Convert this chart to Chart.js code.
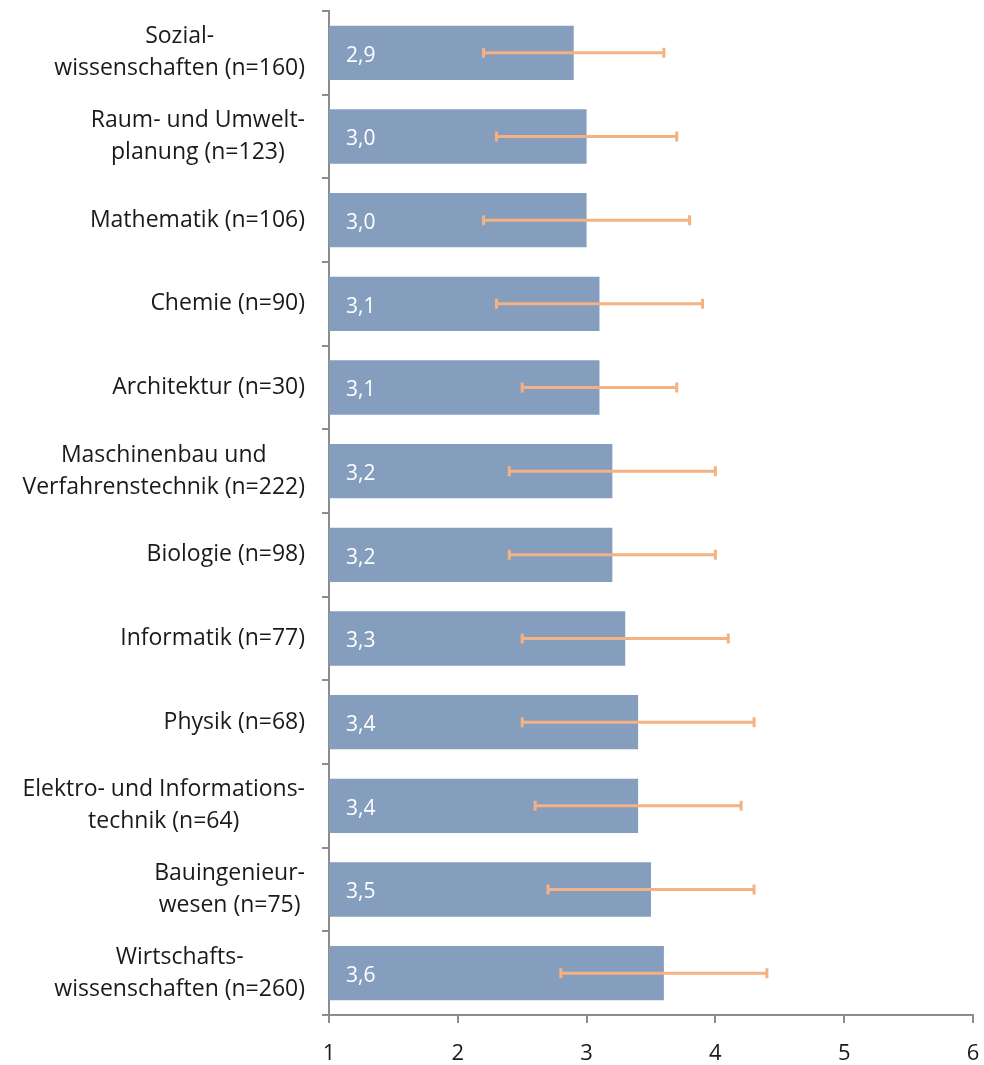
<!DOCTYPE html>
<html>
<head>
<meta charset="utf-8">
<script src="https://cdn.jsdelivr.net/npm/chart.js@4.4.1/dist/chart.umd.min.js"></script>
<style>
  html, body { margin: 0; padding: 0; background: #fff; }
  #wrap { width: 984px; height: 1065px; }
</style>
</head>
<body>
<div id="wrap"><canvas id="chart" width="984" height="1065"></canvas></div>
<script>
// category labels (line breaks as in the original)
const categories = [
    ["Sozial-", "wissenschaften (n=160)"],
    ["Raum- und Umwelt-", "planung (n=123)"],
    ["Mathematik (n=106)"],
    ["Chemie (n=90)"],
    ["Architektur (n=30)"],
    ["Maschinenbau und", "Verfahrenstechnik (n=222)"],
    ["Biologie (n=98)"],
    ["Informatik (n=77)"],
    ["Physik (n=68)"],
    ["Elektro- und Informations-", "technik (n=64)"],
    ["Bauingenieur-", "wesen (n=75)"],
    ["Wirtschafts-", "wissenschaften (n=260)"],
];
const means = [2.9, 3.0, 3.0, 3.1, 3.1, 3.2, 3.2, 3.3, 3.4, 3.4, 3.5, 3.6];
const errLow = [2.2, 2.3, 2.2, 2.3, 2.5, 2.4, 2.4, 2.5, 2.5, 2.6, 2.7, 2.8];
const errHigh = [3.6, 3.7, 3.8, 3.9, 3.7, 4.0, 4.0, 4.1, 4.3, 4.2, 4.3, 4.4];
const xTicks = [1, 2, 3, 4, 5, 6];

const FONT = "'Open Sans', 'DejaVu Sans', sans-serif";
const axisGray = "#8c8c8c";
const barColor = "#859ebd";
const errColor = "#f4b183";

// error bars and value labels
const barExtras = {
    id: "barExtras",
    afterDatasetsDraw(chart) {
        const ctx = chart.ctx;
        const x = chart.scales.x;
        const meta = chart.getDatasetMeta(0);
        ctx.save();
        meta.data.forEach((bar, i) => {
            const y = bar.y;
            const x1 = x.getPixelForValue(errLow[i]);
            const x2 = x.getPixelForValue(errHigh[i]);
            ctx.strokeStyle = errColor;
            ctx.lineWidth = 3;
            ctx.beginPath();
            ctx.moveTo(x1, y);
            ctx.lineTo(x2, y);
            ctx.moveTo(x1, y - 5);
            ctx.lineTo(x1, y + 5);
            ctx.moveTo(x2, y - 5);
            ctx.lineTo(x2, y + 5);
            ctx.stroke();

            ctx.fillStyle = "#ffffff";
            ctx.font = "21px " + FONT;
            ctx.textAlign = "left";
            ctx.textBaseline = "middle";
            ctx.fillText(means[i].toFixed(1).replace(".", ","), x.getPixelForValue(1) + 17, y + 3);
        });
        ctx.restore();
    },
    afterDraw(chart) {
        // category labels: block right-aligned, lines centered within block
        const ctx = chart.ctx;
        const yScale = chart.scales.y;
        const right = 305;
        const lh = 32;
        ctx.save();
        ctx.font = "23px " + FONT;
        ctx.fillStyle = "#1a1a1a";
        ctx.textAlign = "center";
        ctx.textBaseline = "middle";
        categories.forEach((lines, i) => {
            const cy = yScale.getPixelForValue(i);
            const w = Math.max(...lines.map(l => ctx.measureText(l).width));
            const cx = right - w / 2;
            const y0 = cy - (lines.length - 1) * lh / 2;
            lines.forEach((l, k) => ctx.fillText(l, cx, y0 + k * lh));
        });
        ctx.restore();
    }
};

new Chart(document.getElementById("chart"), {
    type: "bar",
    data: {
        labels: categories.map(c => c.join(" ")),
        datasets: [{
            data: means.map(m => [1, m]),
            backgroundColor: barColor,
            borderWidth: 0,
            categoryPercentage: 1,
            barPercentage: 0.65,
        }],
    },
    options: {
        indexAxis: "y",
        responsive: false,
        animation: false,
        layout: { padding: { top: 11, right: 11, left: 0, bottom: 0 } },
        plugins: { legend: { display: false }, tooltip: { enabled: false } },
        scales: {
            x: {
                type: "linear",
                min: 1,
                max: 6,
                afterBuildTicks: (axis) => { axis.ticks = xTicks.map(v => ({ value: v })); },
                afterFit: (axis) => {
                    axis.height = 50;
                    axis.paddingLeft = 0;
                    axis.paddingRight = 0;
                },
                border: { color: axisGray, width: 2 },
                grid: { drawOnChartArea: false, tickLength: 8, color: axisGray, lineWidth: 2 },
                ticks: {
                    padding: 18,
                    color: "#1a1a1a",
                    font: { family: FONT, size: 22 },
                },
            },
            y: {
                type: "category",
                offset: true,
                afterFit: (axis) => { axis.width = 329; },
                border: { color: axisGray, width: 2 },
                grid: { offset: true, drawOnChartArea: false, tickLength: 7, color: axisGray, lineWidth: 2 },
                ticks: { display: false },
            },
        },
    },
    plugins: [barExtras],
});
</script>
</body>
</html>
